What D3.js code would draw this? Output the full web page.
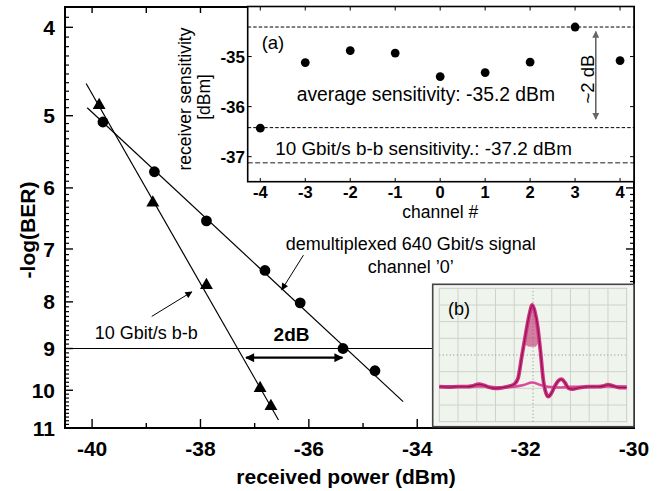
<!DOCTYPE html>
<html>
<head>
<meta charset="utf-8">
<script src="https://cdn.jsdelivr.net/npm/d3@7"></script>
<style>
html, body { margin: 0; padding: 0; background: #fff; }
svg { display: block; font-family: "Liberation Sans", Arial, Helvetica, sans-serif; }
</style>
</head>
<body>
<svg></svg>
<script>
var WIDTH = 666;
var HEIGHT = 491;

// main plot: BER vs received power
var demuxPower = [-39.80, -38.85, -37.89, -36.81, -36.16, -35.37, -34.78];
var demuxBer = [5.08, 5.76, 6.52, 7.39, 8.02, 9.00, 9.52];
var b2bPower = [-39.87, -38.88, -37.89, -36.90, -36.70];
var b2bBer = [4.87, 6.23, 7.67, 9.95, 10.41];
// fitted lines (end points)
var demuxFitPower = [-40.09, -34.26];
var demuxFitBer = [4.90, 10.29];
var b2bFitPower = [-40.11, -36.56];
var b2bFitBer = [4.61, 10.78];
var berRefLevel = 9;
var xTickLabels = [-40, -38, -36, -34, -32, -30];
var yTickLabels = [4, 5, 6, 7, 8, 9, 10, 11];

// inset (a): sensitivity per channel
var channels = [-4, -3, -2, -1, 0, 1, 2, 3, 4];
var sensitivity = [-36.43, -35.12, -34.88, -34.93, -35.40, -35.32, -35.11, -34.41, -35.08];
var sensTickLabels = [-35, -36, -37];
var bestLevel = -34.41;
var worstLevel = -36.42;
var b2bLevel = -37.12;

// inset (b): scope trace (time / level in divisions)
var onesTime = [0, 0.5, 1, 1.5, 1.8, 2.1, 2.4, 2.7, 3, 3.4, 3.8, 4, 4.2, 4.4, 4.6, 4.8, 4.96, 5.1, 5.25, 5.4, 5.55, 5.7, 5.82, 5.95, 6.15, 6.35, 6.53, 6.7, 6.9, 7.1, 7.5, 8, 8.5, 8.8, 9, 9.25, 9.6, 10];
var onesLevel = [2.10, 2.08, 2.10, 2.10, 2.15, 2.25, 2.18, 2.05, 2.00, 2.05, 2.15, 2.25, 2.6, 3.9, 5.2, 6.4, 7.0, 6.6, 5.7, 4.2, 2.5, 1.7, 1.5, 1.65, 2.1, 2.45, 2.55, 2.35, 2.0, 1.95, 2.05, 2.10, 2.10, 2.15, 2.22, 2.15, 2.05, 2.05];
var zerosTime = [0, 1, 2, 2.4, 3, 4, 4.5, 4.96, 5.4, 5.8, 6.5, 7, 8, 9, 10];
var zerosLevel = [2.08, 2.10, 2.12, 2.12, 2.06, 2.10, 2.20, 2.35, 2.20, 2.10, 2.05, 2.10, 2.08, 2.12, 2.10];
// dense (jittered) top of the pulse, outline
var pulseCoreTime = [4.58, 4.72, 4.85, 4.96, 5.08, 5.2, 5.33, 5.15, 4.8];
var pulseCoreLevel = [4.6, 5.7, 6.5, 6.95, 6.6, 5.9, 4.8, 4.5, 4.5];

var svg = d3.select('svg')
  .attr('width', WIDTH)
  .attr('height', HEIGHT);

var defs = svg.append('defs');
function addMarker(id, color, w, h) {
  defs.append('marker')
    .attr('id', id)
    .attr('viewBox', '0 0 10 10')
    .attr('refX', 9).attr('refY', 5)
    .attr('markerWidth', w).attr('markerHeight', h)
    .attr('markerUnits', 'userSpaceOnUse')
    .attr('orient', 'auto-start-reverse')
    .append('path')
    .attr('d', 'M0,0 L10,5 L0,10 Z')
    .attr('fill', color);
}
addMarker('arr', '#000', 8, 7);
addMarker('arrBig', '#000', 11, 9);
addMarker('arrGray', '#666', 7, 7);

var xScale = d3.scaleLinear().domain([-40.5, -30]).range([65, 634]);
var yScale = d3.scaleLog().domain([3.8, 11]).range([7, 428]);

var main = svg.append('g');

// ticks
var minorY = d3.range(39, 111).map(function(d) { return d / 10; })
  .filter(function(d) { return d % 1 !== 0; });
[65, 634].forEach(function(x0, side) {
  var dir = side === 0 ? 1 : -1;
  main.selectAll(null).data(minorY).enter().append('line')
    .attr('x1', x0).attr('x2', x0 + dir * 4)
    .attr('y1', function(d) { return yScale(d); })
    .attr('y2', function(d) { return yScale(d); })
    .attr('stroke', '#000').attr('stroke-width', 1.2);
  main.selectAll(null).data(yTickLabels).enter().append('line')
    .attr('x1', x0).attr('x2', x0 + dir * 8)
    .attr('y1', function(d) { return yScale(d); })
    .attr('y2', function(d) { return yScale(d); })
    .attr('stroke', '#000').attr('stroke-width', 1.4);
});
var xTicksAll = d3.range(-40, -29);
main.selectAll(null).data(xTicksAll).enter().append('line')
  .attr('x1', function(d) { return xScale(d); })
  .attr('x2', function(d) { return xScale(d); })
  .attr('y1', 428)
  .attr('y2', function(d) { return d % 2 === 0 ? 419 : 423; })
  .attr('stroke', '#000').attr('stroke-width', 1.4);
main.selectAll(null).data(xTicksAll).enter().append('line')
  .attr('x1', function(d) { return xScale(d); })
  .attr('x2', function(d) { return xScale(d); })
  .attr('y1', 7).attr('y2', 13)
  .attr('stroke', '#000').attr('stroke-width', 1.4);

// tick labels
main.selectAll(null).data(yTickLabels).enter().append('text')
  .attr('x', 55)
  .attr('y', function(d) { return yScale(d); })
  .attr('dy', '0.36em')
  .attr('text-anchor', 'end')
  .style('font-size', '21px').style('font-weight', 'bold')
  .text(function(d) { return d; });
main.selectAll(null).data(xTickLabels).enter().append('text')
  .attr('x', function(d) { return xScale(d); })
  .attr('y', 456)
  .attr('text-anchor', 'middle')
  .style('font-size', '21px').style('font-weight', 'bold')
  .text(function(d) { return d; });

main.append('text')
  .attr('transform', 'translate(35,230) rotate(-90)')
  .attr('text-anchor', 'middle')
  .style('font-size', '21px').style('font-weight', 'bold')
  .text('-log(BER)');
main.append('text')
  .attr('x', 346).attr('y', 484)
  .attr('text-anchor', 'middle')
  .style('font-size', '21px').style('font-weight', 'bold')
  .text('received power (dBm)');

// reference line at BER 1e-9
main.append('line')
  .attr('x1', xScale.range()[0]).attr('x2', xScale.range()[1])
  .attr('y1', yScale(berRefLevel)).attr('y2', yScale(berRefLevel))
  .attr('stroke', '#000').attr('stroke-width', 1.2);

// fit lines
var line = d3.line()
  .x(function(d) { return xScale(d[0]); })
  .y(function(d) { return yScale(d[1]); });
main.append('path')
  .attr('d', line(d3.zip(demuxFitPower, demuxFitBer)))
  .attr('fill', 'none').attr('stroke', '#000').attr('stroke-width', 1.2);
main.append('path')
  .attr('d', line(d3.zip(b2bFitPower, b2bFitBer)))
  .attr('fill', 'none').attr('stroke', '#000').attr('stroke-width', 1.2);

// markers
main.selectAll(null).data(d3.zip(demuxPower, demuxBer)).enter().append('circle')
  .attr('cx', function(d) { return xScale(d[0]); })
  .attr('cy', function(d) { return yScale(d[1]); })
  .attr('r', 5.4)
  .attr('fill', '#000');
var tri = d3.symbol().type(d3.symbolTriangle).size(72);
main.selectAll(null).data(d3.zip(b2bPower, b2bBer)).enter().append('path')
  .attr('d', tri)
  .attr('transform', function(d) { return 'translate(' + xScale(d[0]) + ',' + yScale(d[1]) + ')'; })
  .attr('fill', '#000');

// annotations
function ann(x, y, s, opts) {
  var t = main.append('text')
    .attr('x', xScale(x)).attr('y', yScale(y))
    .attr('text-anchor', opts.anchor || 'start')
    .style('font-size', opts.size || '18px')
    .text(s);
  if (opts.bold) t.style('font-weight', 'bold');
  return t;
}
ann(-34.12, 7.02, 'demultiplexed 640 Gbit/s signal', { anchor: 'middle' });
ann(-34.12, 7.43, 'channel \u20190\u2019', { anchor: 'middle' });
ann(-39.95, 8.79, '10 Gbit/s b-b', {});
ann(-36.32, 8.83, '2dB', { anchor: 'middle', bold: true, size: '19px' });

function arrow(x1, y1, x2, y2, marker, width, both) {
  var l = main.append('line')
    .attr('x1', xScale(x1)).attr('y1', yScale(y1))
    .attr('x2', xScale(x2)).attr('y2', yScale(y2))
    .attr('stroke', '#000').attr('stroke-width', width)
    .attr('marker-end', 'url(#' + marker + ')');
  if (both) l.attr('marker-start', 'url(#' + marker + ')');
}
arrow(-38.90, 8.30, -38.16, 7.80, 'arr', 1, false);
arrow(-36.10, 7.11, -36.50, 7.76, 'arr', 1, false);
arrow(-37.16, 9.21, -35.38, 9.21, 'arrBig', 2.2, true);

// frame
main.append('rect')
  .attr('x', 65).attr('y', 7)
  .attr('width', 634 - 65).attr('height', 428 - 7)
  .attr('fill', 'none').attr('stroke', '#000').attr('stroke-width', 2);

// ---------- inset (a) ----------
var ix = d3.scaleLinear().domain([-4.28, 4.31]).range([247.7, 634]);
var iy = d3.scaleLinear().domain([-37.5, -34]).range([181.7, 6.5]);
var ia = svg.append('g');

ia.append('rect')
  .attr('x', 247.7).attr('y', 6.5)
  .attr('width', 634 - 247.7).attr('height', 181.7 - 6.5)
  .attr('fill', '#fff');

[bestLevel, worstLevel].forEach(function(v) {
  ia.append('line')
    .attr('x1', ix.range()[0]).attr('x2', ix.range()[1])
    .attr('y1', iy(v)).attr('y2', iy(v))
    .attr('stroke', '#000').attr('stroke-width', 1)
    .attr('stroke-dasharray', '3.5,2');
});
ia.append('line')
  .attr('x1', ix.range()[0]).attr('x2', ix.range()[1])
  .attr('y1', iy(b2bLevel)).attr('y2', iy(b2bLevel))
  .attr('stroke', '#666').attr('stroke-width', 1.4)
  .attr('stroke-dasharray', '5,2.5');

ia.selectAll(null).data(channels).enter().append('line')
  .attr('x1', function(d) { return ix(d); }).attr('x2', function(d) { return ix(d); })
  .attr('y1', 6.5).attr('y2', 10.5)
  .attr('stroke', '#000').attr('stroke-width', 1);
ia.selectAll(null).data(channels).enter().append('line')
  .attr('x1', function(d) { return ix(d); }).attr('x2', function(d) { return ix(d); })
  .attr('y1', 181.7).attr('y2', 178)
  .attr('stroke', '#000').attr('stroke-width', 1);
[247.7, 634].forEach(function(x0, side) {
  var dir = side === 0 ? 1 : -1;
  ia.selectAll(null).data(sensTickLabels).enter().append('line')
    .attr('x1', x0).attr('x2', x0 + dir * 4)
    .attr('y1', function(d) { return iy(d); }).attr('y2', function(d) { return iy(d); })
    .attr('stroke', '#000').attr('stroke-width', 1);
});

ia.selectAll(null).data(d3.zip(channels, sensitivity)).enter().append('circle')
  .attr('cx', function(d) { return ix(d[0]); })
  .attr('cy', function(d) { return iy(d[1]); })
  .attr('r', 4.4)
  .attr('fill', '#000');

ia.append('rect')
  .attr('x', 247.7).attr('y', 6.5)
  .attr('width', 634 - 247.7).attr('height', 181.7 - 6.5)
  .attr('fill', 'none').attr('stroke', '#000').attr('stroke-width', 1.6);

ia.selectAll(null).data(sensTickLabels).enter().append('text')
  .attr('x', 245)
  .attr('y', function(d) { return iy(d); })
  .attr('dy', '0.36em')
  .attr('text-anchor', 'end')
  .style('font-size', '17px').style('font-weight', 'bold')
  .text(function(d) { return d; });
ia.selectAll(null).data(channels).enter().append('text')
  .attr('x', function(d) { return ix(d); })
  .attr('y', 197.5)
  .attr('text-anchor', 'middle')
  .style('font-size', '16.5px').style('font-weight', 'bold')
  .text(function(d) { return d; });
ia.append('text')
  .attr('x', ix(0)).attr('y', 217.5)
  .attr('text-anchor', 'middle')
  .style('font-size', '17.5px')
  .text('channel #');
ia.append('text')
  .attr('transform', 'translate(191,99) rotate(-90)')
  .attr('text-anchor', 'middle')
  .style('font-size', '17.5px')
  .text('receiver sensitivity');
ia.append('text')
  .attr('transform', 'translate(210,97) rotate(-90)')
  .attr('text-anchor', 'middle')
  .style('font-size', '17.5px')
  .text('[dBm]');

ia.append('text')
  .attr('x', ix(-3.97)).attr('y', iy(-34.85))
  .style('font-size', '18.5px')
  .text('(a)');
ia.append('text')
  .attr('x', ix(-3.19)).attr('y', iy(-35.88))
  .style('font-size', '19.3px')
  .text('average sensitivity: -35.2 dBm');
ia.append('text')
  .attr('x', ix(-3.67)).attr('y', iy(-36.97))
  .style('font-size', '18.9px')
  .text('10 Gbit/s b-b sensitivity.: -37.2 dBm');

ia.append('line')
  .attr('x1', ix(3.46)).attr('x2', ix(3.46))
  .attr('y1', iy(-34.50)).attr('y2', iy(-36.25))
  .attr('stroke', '#666').attr('stroke-width', 1.6)
  .attr('marker-start', 'url(#arrGray)')
  .attr('marker-end', 'url(#arrGray)');
ia.append('text')
  .attr('transform', 'translate(' + ix(3.41) + ',' + iy(-35.45) + ') rotate(-90)')
  .attr('text-anchor', 'middle')
  .style('font-size', '18.5px')
  .text('~2 dB');

// ---------- inset (b): scope trace ----------
var sx = d3.scaleLinear().domain([0, 10]).range([439.3, 626.7]);
var sy = d3.scaleLinear().domain([0, 8]).range([421.7, 288.3]);
var ib = svg.append('g');

ib.append('rect')
  .attr('x', 432.7).attr('y', 284.3)
  .attr('width', 634 - 432.7).attr('height', 426.7 - 284.3)
  .attr('fill', '#f3f5f1').attr('stroke', '#444').attr('stroke-width', 1.6);
ib.append('rect')
  .attr('x', sx(0)).attr('y', sy(8))
  .attr('width', sx(10) - sx(0)).attr('height', sy(0) - sy(8))
  .attr('fill', '#eff4ec').attr('stroke', '#c9cfc7').attr('stroke-width', 1);

var gridX = d3.range(1, 10);
var gridY = d3.range(1, 8);
ib.selectAll(null).data(gridX.filter(function(d) { return d !== 5; })).enter().append('line')
  .attr('x1', function(d) { return sx(d); }).attr('x2', function(d) { return sx(d); })
  .attr('y1', sy(0)).attr('y2', sy(8))
  .attr('stroke', '#cdd3cb').attr('stroke-width', 1);
ib.selectAll(null).data(gridY.filter(function(d) { return d !== 4; })).enter().append('line')
  .attr('x1', sx(0)).attr('x2', sx(10))
  .attr('y1', function(d) { return sy(d); }).attr('y2', function(d) { return sy(d); })
  .attr('stroke', '#cdd3cb').attr('stroke-width', 1);
ib.append('line')
  .attr('x1', sx(5)).attr('x2', sx(5)).attr('y1', sy(0)).attr('y2', sy(8))
  .attr('stroke', '#8a8a8a').attr('stroke-width', 1).attr('stroke-dasharray', '1,2.5');
ib.append('line')
  .attr('x1', sx(0)).attr('x2', sx(10)).attr('y1', sy(4)).attr('y2', sy(4))
  .attr('stroke', '#8a8a8a').attr('stroke-width', 1).attr('stroke-dasharray', '1,2.5');

var scopeLine = d3.line()
  .x(function(d) { return sx(d[0]); })
  .y(function(d) { return sy(d[1]); })
  .curve(d3.curveMonotoneX);
ib.append('path')
  .attr('d', scopeLine(d3.zip(zerosTime, zerosLevel)))
  .attr('fill', 'none').attr('stroke', '#dc4b9b').attr('stroke-width', 2.6);
ib.append('path')
  .attr('d', d3.line()
    .x(function(d) { return sx(d[0]); })
    .y(function(d) { return sy(d[1]); })
    .curve(d3.curveLinearClosed)(d3.zip(pulseCoreTime, pulseCoreLevel)))
  .attr('fill', '#c0306f').attr('fill-opacity', 0.6);
ib.append('path')
  .attr('d', scopeLine(d3.zip(onesTime, onesLevel)))
  .attr('fill', 'none').attr('stroke', '#cf3382').attr('stroke-width', 3.8)
  .attr('stroke-linejoin', 'round');
ib.append('path')
  .attr('d', scopeLine(d3.zip(onesTime, onesLevel)))
  .attr('fill', 'none').attr('stroke', '#8e1450').attr('stroke-width', 1.1);

ib.append('text')
  .attr('x', 448).attr('y', 314.5)
  .style('font-size', '18px')
  .text('(b)');
</script>
</body>
</html>
